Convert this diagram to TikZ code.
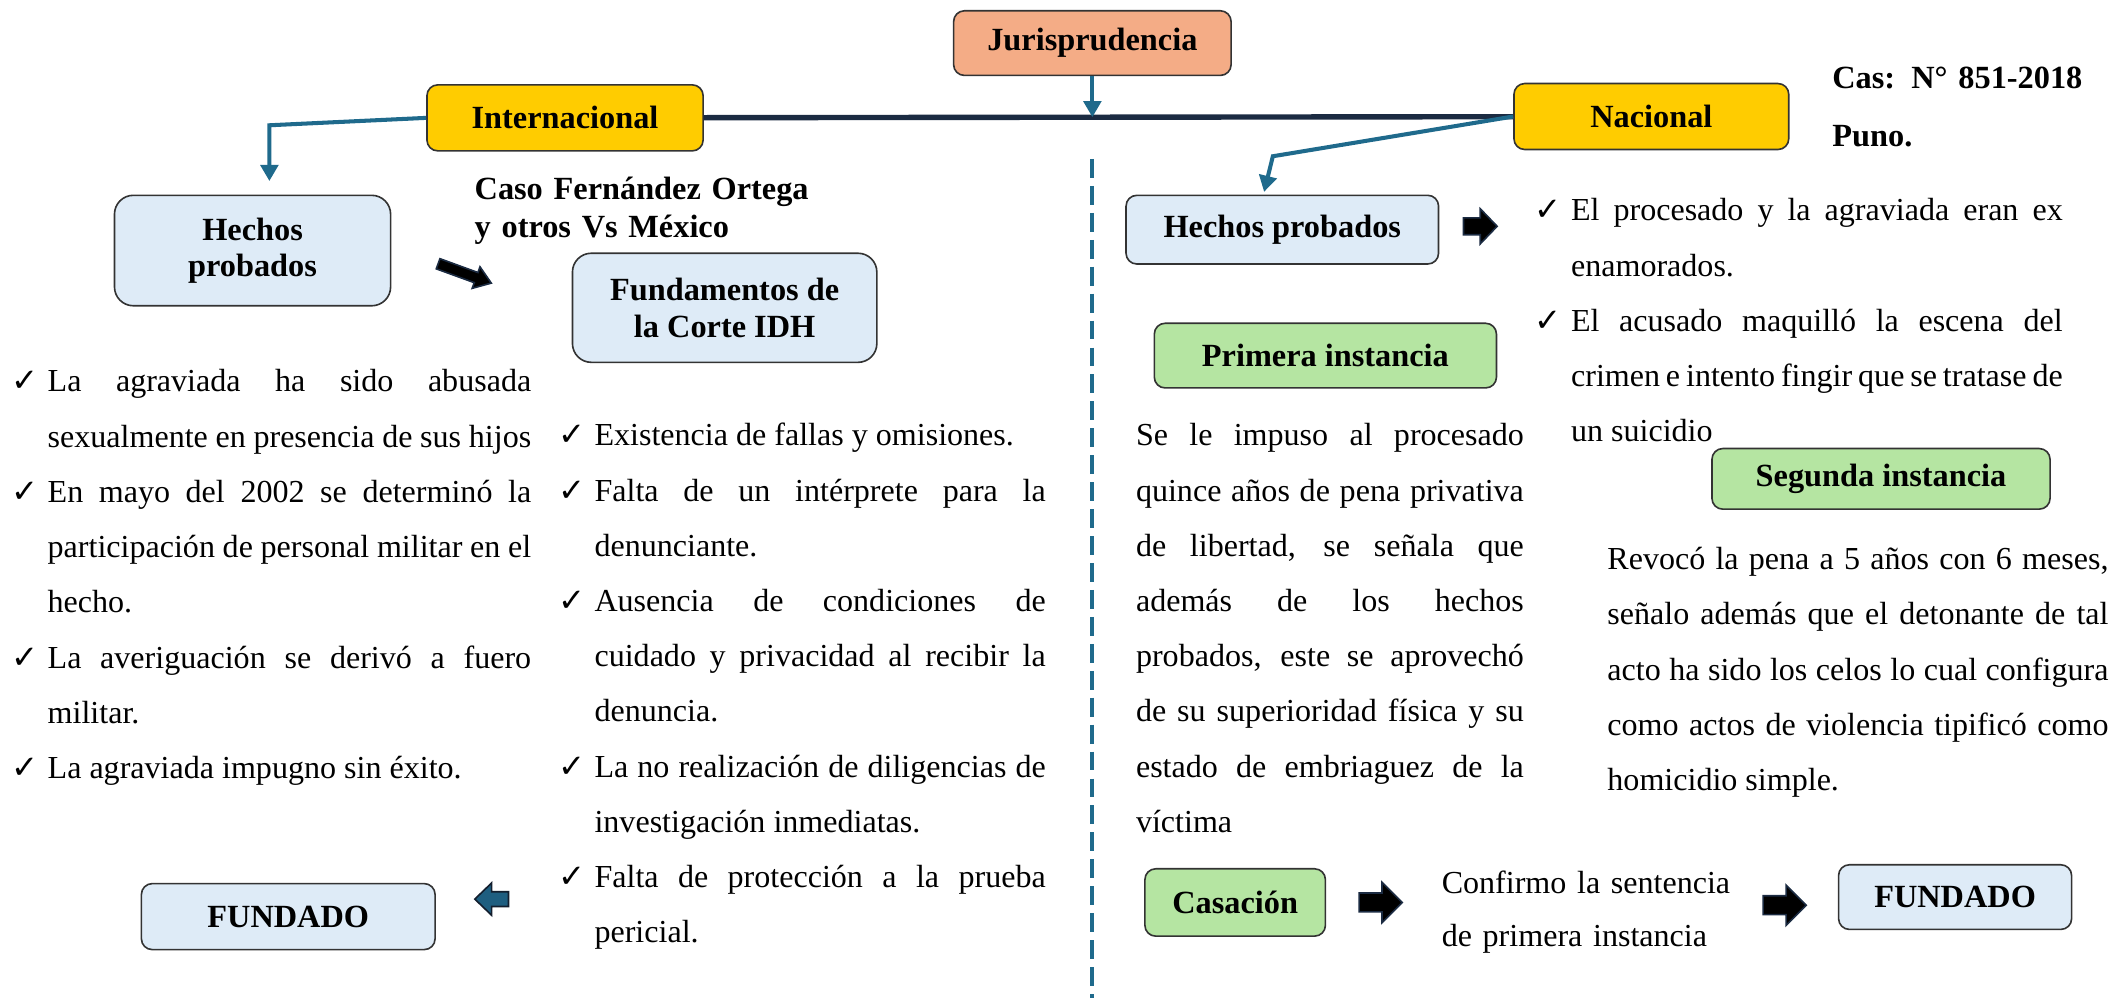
\documentclass[tikz,border=0pt]{standalone}
\usepackage{fontspec}
\setmainfont{Liberation Serif}
\newfontfamily\symfont{DejaVu Sans}
\usetikzlibrary{arrows.meta}
\definecolor{salmon}{HTML}{F4AC86}
\definecolor{gold}{HTML}{FFCC00}
\definecolor{paleblue}{HTML}{DEEBF7}
\definecolor{palegreen}{HTML}{B5E5A2}
\definecolor{linkblue}{HTML}{1F6A8C}
\definecolor{arrblue}{HTML}{1E5E80}
\definecolor{navy}{HTML}{1B2B42}
\hyphenpenalty=10000
\exhyphenpenalty=10000
\tolerance=10000
\newcommand{\looser}{\spaceskip=2.98pt plus 4pt minus 1.5pt\relax}
\newcommand{\ok}{\makebox[13.5pt][l]{\symfont\fontsize{12}{12}\selectfont ✓}}
\newcommand{\chk}[1]{\hangindent=13.5pt\hangafter=1\noindent\ok#1\par}
\tikzset{
  box/.style={draw=black!80, line width=0.6pt, rounded corners=4pt,
    font=\fontsize{12}{13.5}\selectfont\bfseries, align=center, inner sep=1pt},
  txt/.style={anchor=base west, inner sep=0pt, align=justify,
    font=\fontsize{11.9}{20.5}\selectfont\looser},
  link/.style={draw=linkblue, line width=1.5pt, -{Triangle[width=6.5pt,length=6pt]}},
  % flecha de bloque: media longitud, media punta, medio cuerpo, largo de punta
  pics/blockarr/.style n args={4}{code={
    \path[pic actions, line width=0.6pt, line join=miter]
      (-#1,-#3) -- ({#1-#4},-#3) -- ({#1-#4},-#2) -- (#1,0)
      -- ({#1-#4},#2) -- ({#1-#4},#3) -- (-#1,#3) -- cycle;
  }}
}
\begin{document}
\begin{tikzpicture}[x=0.5pt,y=-0.5pt]
  \useasboundingbox (0,0) rectangle (1568,741);
  % cajas principales
  \node[box, fill=salmon, minimum width=103pt, minimum height=24pt] (jur) at (811,32) {Jurisprudencia};
  \node[box, fill=gold, minimum width=102.5pt, minimum height=24.5pt] (int) at (419.5,87.5) {Internacional};
  \node[box, fill=gold, minimum width=102pt, minimum height=24.5pt] (nac) at (1226,86.5) {Nacional};
  \coordinate (hub) at (811,87);
  \coordinate (b1) at (200,93);
  \coordinate (b2) at (945,116);
  % lado internacional
  \node[box, fill=paleblue, rounded corners=7pt, minimum width=102.5pt, minimum height=41pt] (hl) at (187.5,186) {Hechos\\probados};
  \node[box, fill=paleblue, rounded corners=7pt, minimum width=113pt, minimum height=40.5pt] (fund) at (538,228.5) {Fundamentos de\\la Corte IDH};
  \node[box, fill=paleblue, minimum width=109pt, minimum height=24.5pt] (fl) at (214,680.5) {FUNDADO};
  \node[txt, text width=130pt, align=left, font=\fontsize{12}{14}\selectfont\bfseries] (caso) at (352,148)
    {Caso Fernández Ortega\\y otros Vs México};
  \pic[rotate=-20, draw=navy, fill=black] (a1) at (345,203) {blockarr={21}{8.5}{4}{12}};
  \pic[rotate=180, draw=navy!70!black, fill=arrblue] (a2) at (365,667.5) {blockarr={12.5}{12}{5.5}{12.5}};
  \node[txt, text width=193pt] (izq) at (8,291)
    {\chk{La agraviada ha sido abusada\linebreak sexualmente en presencia de sus hijos}%
     \chk{En mayo del 2002 se determinó la\linebreak participación de personal militar en el\linebreak hecho.}%
     \chk{La averiguación se derivó a fuero\linebreak militar.}%
     \chk{La agraviada impugno sin éxito.}};
  \node[txt, text width=181pt] (med) at (414,331)
    {\chk{Existencia de fallas y omisiones.}%
     \chk{Falta de un intérprete para la\linebreak denunciante.}%
     \chk{Ausencia de condiciones de\linebreak cuidado y privacidad al recibir la\linebreak denuncia.}%
     \chk{La no realización de diligencias de\linebreak investigación inmediatas.}%
     \chk{Falta de protección a la prueba\linebreak pericial.}};
  % lado nacional
  \node[box, fill=paleblue, minimum width=116pt, minimum height=25.5pt] (hr) at (952,170.5) {Hechos probados};
  \node[box, fill=palegreen, minimum width=127pt, minimum height=24pt] (pri) at (984,264) {Primera instancia};
  \node[box, fill=palegreen, minimum width=125.5pt, minimum height=22.5pt] (seg) at (1396.5,355.5) {Segunda instancia};
  \node[box, fill=palegreen, minimum width=67pt, minimum height=25pt] (cas) at (917,670) {Casación};
  \node[box, fill=paleblue, minimum width=86.5pt, minimum height=24pt] (fr) at (1451.5,666) {FUNDADO};
  \node[txt, text width=100pt, align=left, font=\fontsize{12}{21.5}\selectfont\bfseries] (exp) at (1360,66)
    {Cas: N° 851-2018\\Puno.};
  \pic[draw=navy, fill=black] (a3) at (1099,168) {blockarr={12.5}{13}{6.3}{12.5}};
  \pic[draw=navy, fill=black] (a4) at (1025,670) {blockarr={16}{15}{7}{15}};
  \pic[draw=navy, fill=black] (a5) at (1325,672) {blockarr={16}{15}{7}{15}};
  \node[txt, text width=196pt] (der) at (1139,164)
    {\chk{El procesado y la agraviada eran ex\linebreak enamorados.}%
     \chk{El acusado maquilló la escena del\linebreak crimen e intento fingir que se tratase de\linebreak un suicidio}};
  \node[txt, text width=144pt] (ptxt) at (843,331)
    {Se le impuso al procesado\linebreak quince años de pena privativa\linebreak de libertad, se señala que\linebreak además de los hechos\linebreak probados, este se aprovechó\linebreak de su superioridad física y su\linebreak estado de embriaguez de la\linebreak víctima};
  \node[txt, text width=186pt] (stxt) at (1193,423)
    {Revocó la pena a 5 años con 6 meses,\linebreak señalo además que el detonante de tal\linebreak acto ha sido los celos lo cual configura\linebreak como actos de violencia tipificó como\linebreak homicidio simple.};
  \node[txt, text width=120pt, align=left, font=\fontsize{11.9}{20}\selectfont] (conf) at (1070,663)
    {Confirmo la sentencia\\de primera instancia};
  % conectores
  \draw[navy, line width=2pt] (int) -- (nac);
  \draw[link] (jur) -- (hub);
  \draw[link, shorten >=5pt] (int.west) -- (b1) -- (b1 |- hl.north);
  \draw[link, shorten >=1pt] (nac.west) -- (b2) -- ([xshift=-7pt]hr.north);
  \draw[linkblue, line width=1.5pt, dash pattern=on 7pt off 3pt] (811,118) -- (811,741);
\end{tikzpicture}
\end{document}
